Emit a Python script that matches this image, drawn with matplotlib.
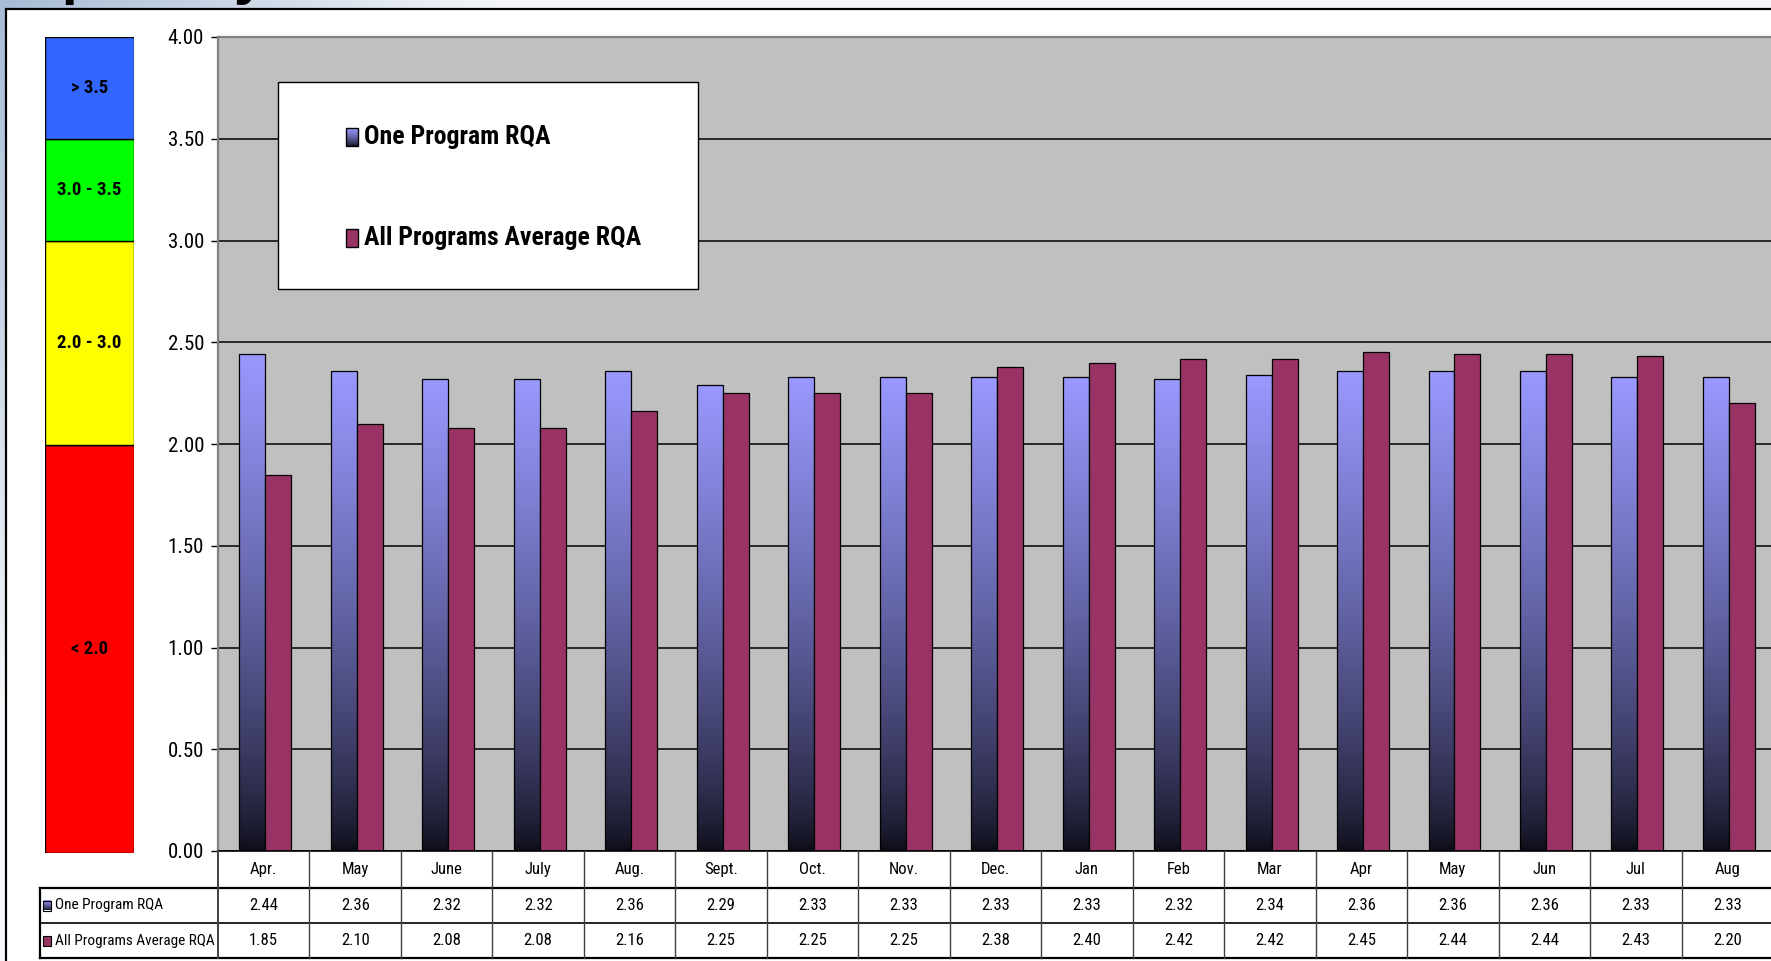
import numpy as np
import matplotlib
matplotlib.use('Agg')
import matplotlib.pyplot as plt
from matplotlib import font_manager, transforms
from matplotlib.patches import Rectangle

# ---------------- data ----------------
months = ['Apr.', 'May', 'June', 'July', 'Aug.', 'Sept.', 'Oct.', 'Nov.', 'Dec.',
          'Jan', 'Feb', 'Mar', 'Apr', 'May', 'Jun', 'Jul', 'Aug']
one_program = [2.44, 2.36, 2.32, 2.32, 2.36, 2.29, 2.33, 2.33, 2.33,
               2.33, 2.32, 2.34, 2.36, 2.36, 2.36, 2.33, 2.33]
all_programs = [1.85, 2.10, 2.08, 2.08, 2.16, 2.25, 2.25, 2.25, 2.38,
                2.40, 2.42, 2.42, 2.45, 2.44, 2.44, 2.43, 2.20]
series_names = ['One Program RQA', 'All Programs Average RQA']
y_ticks = [0.0, 0.5, 1.0, 1.5, 2.0, 2.5, 3.0, 3.5, 4.0]
band_lows = [0.0, 2.0, 3.0, 3.5]
band_highs = [2.0, 3.0, 3.5, 4.0]
band_labels = ['< 2.0', '2.0 - 3.0', '3.0 - 3.5', '> 3.5']
band_colors = ['#FF0000', '#FFFF00', '#00FF00', '#3366FF']
title_text = 'Capability'

# ---------------- fonts ----------------
avail = {f.name for f in font_manager.fontManager.ttflist}
NARROW = 'Liberation Sans'
for cand in ['Liberation Sans Narrow', 'Arial Narrow', 'Roboto Condensed', 'Liberation Sans']:
    if cand in avail:
        NARROW = cand
        break
plt.rcParams['font.family'] = [NARROW, 'DejaVu Sans']

W, H = 1771, 961
fig = plt.figure(figsize=(W / 100, H / 100), dpi=100)

def px_rect(x0, y0, x1, y1):
    return [x0 / W, 1 - y1 / H, (x1 - x0) / W, (y1 - y0) / H]

# ---------------- background (slide) ----------------
bg = fig.add_axes([0, 0, 1, 1], zorder=-10)
bg.set_xlim(0, W); bg.set_ylim(H, 0); bg.axis('off')
yy, xx = np.mgrid[0:H:4, 0:W:4]
d = np.clip(np.sqrt((xx / 500.0) ** 2 + (yy / 700.0) ** 2), 0, 1)
c0 = np.array([0xA8, 0xBC, 0xD6]) / 255
c1 = np.array([0xF4, 0xF6, 0xF9]) / 255
img = c0 + (c1 - c0) * d[..., None]
bg.imshow(img, extent=(0, W, H, 0), aspect='auto', zorder=0)
bg.text(-12, -7, title_text, fontsize=42, fontweight='bold', family='Liberation Sans',
        color='black', va='baseline', ha='left', zorder=1)
bg.add_patch(Rectangle((6, 9), W + 20, H + 20, facecolor='white', edgecolor='black',
                       linewidth=1.6, zorder=2))

# ---------------- main axes ----------------
AX_L, AX_R, AX_T, AX_B = 218, 1773, 37, 851
ax = fig.add_axes(px_rect(AX_L, AX_T, AX_R, AX_B), zorder=2)
ax.set_facecolor('#C0C0C0')
x = np.arange(len(months))
bw = 0.284
off = 0.018

top_c = np.array([0x99, 0x99, 0xFF]) / 255
bot_c = np.array([0x0C, 0x0C, 0x16]) / 255
t = np.linspace(0, 1, 256) ** 0.7
grad = (bot_c + (top_c - bot_c) * t[:, None])[:, None, :]

bars1 = ax.bar(x - bw / 2 + off, one_program, width=bw, facecolor='none',
               edgecolor='black', linewidth=0.9, zorder=4)
for p in bars1:
    im = ax.imshow(grad, extent=(p.get_x(), p.get_x() + p.get_width(), 0, p.get_height()),
                   origin='lower', aspect='auto', zorder=3)
    im.set_clip_path(p)
ax.bar(x + bw / 2 + off, all_programs, width=bw, color='#993366',
       edgecolor='black', linewidth=0.9, zorder=4)

ax.set_xlim(-0.5, len(months) - 0.5)
ax.set_ylim(0, 4)
ax.set_yticks(y_ticks)
ax.set_yticklabels([f'{v:.2f}' for v in y_ticks])
ax.tick_params(axis='y', length=5, width=1, direction='out', pad=5, labelsize=15)
ax.tick_params(axis='x', length=0, labelbottom=False)
ax.grid(axis='y', color='black', linewidth=1.1)
ax.set_axisbelow(True)
for s in ['right', 'bottom']:
    ax.spines[s].set_visible(False)
ax.spines['left'].set_color('#808080'); ax.spines['left'].set_linewidth(1.6)
ax.spines['top'].set_color('#808080'); ax.spines['top'].set_linewidth(1.6)

# ---------------- colour band axis ----------------
cb = fig.add_axes(px_rect(45, AX_T, 134, AX_B + 2), zorder=2)
cb.bar([0] * len(band_lows), np.array(band_highs) - np.array(band_lows), bottom=band_lows,
       width=1.0, color=band_colors, edgecolor='black', linewidth=1.0)
for lo, hi, lab in zip(band_lows, band_highs, band_labels):
    cb.text(0, (lo + hi) / 2, lab, ha='center', va='center', fontsize=13.5,
            fontweight='bold', color='black')
cb.set_xlim(-0.5, 0.5); cb.set_ylim(0, 4)
cb.axis('off')

# ---------------- overlay: legend + data table ----------------
ov = fig.add_axes([0, 0, 1, 1], zorder=5)
ov.set_xlim(0, W); ov.set_ylim(H, 0); ov.axis('off')
ov.patch.set_alpha(0)

# legend
ov.add_patch(Rectangle((278, 82), 420, 207, facecolor='white', edgecolor='black', linewidth=1.0))
leg_y = [137, 238]
ov.imshow(grad, extent=(346, 358, leg_y[0] + 9, leg_y[0] - 9), origin='lower', aspect='auto', zorder=6)
ov.add_patch(Rectangle((346, leg_y[0] - 9), 12, 18, facecolor='none', edgecolor='black', linewidth=1.0, zorder=7))
ov.add_patch(Rectangle((346, leg_y[1] - 9), 12, 18, facecolor='#993366', edgecolor='black', linewidth=1.0, zorder=7))
for yv, name in zip(leg_y, series_names):
    ov.text(364, yv, name, fontsize=18.5, fontweight='bold', va='center', ha='left', zorder=7)

ov.set_xlim(0, W); ov.set_ylim(H, 0)

# table
row_edges = [AX_B, 888, 923, 958]
tr = transforms.blended_transform_factory(ax.transData, ov.transData)
ov.plot([AX_L, W + 5], [row_edges[0]] * 2, color='black', lw=1.2)
for yv in row_edges[1:]:
    ov.plot([40, W + 5], [yv] * 2, color='black', lw=1.6 if yv in (888, 958) else 1.2)
ov.plot([40, 40], [row_edges[1], row_edges[3]], color='black', lw=1.6)
ov.plot([AX_L, AX_L], [row_edges[0], row_edges[3]], color='#404040', lw=1.4)
for i in range(1, len(months) + 1):
    ov.plot([i - 0.5, i - 0.5], [row_edges[0], row_edges[3]], color='#404040',
            lw=1.0, transform=tr)
for i, m in enumerate(months):
    ov.text(i, (row_edges[0] + row_edges[1]) / 2, m, transform=tr, ha='center', va='center', fontsize=12)
    ov.text(i, (row_edges[1] + row_edges[2]) / 2, f'{one_program[i]:.2f}', transform=tr,
            ha='center', va='center', fontsize=12)
    ov.text(i, (row_edges[2] + row_edges[3]) / 2, f'{all_programs[i]:.2f}', transform=tr,
            ha='center', va='center', fontsize=12)
for r, name in enumerate(series_names):
    yc = (row_edges[r + 1] + row_edges[r + 2]) / 2
    if r == 0:
        ov.imshow(grad, extent=(43, 51, yc + 5, yc - 5), origin='lower', aspect='auto', zorder=6)
        ov.add_patch(Rectangle((43, yc - 5), 8, 10, facecolor='none', edgecolor='black', lw=0.8, zorder=7))
    else:
        ov.add_patch(Rectangle((43, yc - 5), 8, 10, facecolor='#993366', edgecolor='black', lw=0.8, zorder=7))
    ov.text(55, yc, name, ha='left', va='center', fontsize=11)

ov.set_xlim(0, W); ov.set_ylim(H, 0)

fig.savefig('out.png', dpi=100)
